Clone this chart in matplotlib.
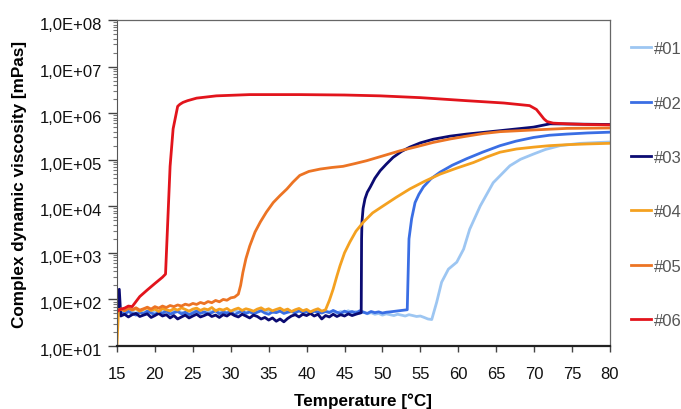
import matplotlib.pyplot as plt
import matplotlib.transforms as mtransforms
import numpy as np
from matplotlib.ticker import FixedLocator, FuncFormatter, LogLocator, NullFormatter

plt.rcParams['font.family'] = ['Liberation Sans', 'DejaVu Sans']

# baseline temperature grid (0.5 °C steps) for the low-viscosity plateaus
t_base = np.arange(15.5, 57.0, 0.5)

# #01 - light blue
base_01 = [56, 52, 58, 54, 50, 57, 53, 55, 59, 51, 56, 54, 58, 52, 55, 57, 53, 50, 56, 54,
           58, 55, 52, 57, 54, 59, 53, 56, 51, 55, 58, 54, 57, 52, 56, 53, 55, 59, 54, 57,
           52, 56, 60, 54, 58, 55, 53, 57, 54, 56, 52, 55, 58, 53, 57, 54, 56, 51, 55, 53,
           57, 52, 55, 50, 54, 49, 52, 48, 50, 46, 49, 47, 45, 48, 46, 44, 47, 45, 43, 44,
           41, 38, 37]
temp_01 = [15.0] + list(t_base) + [57.15, 57.8, 58.7, 59.8, 60.7, 61.5, 62.9, 64.6, 66.8,
                                   68.2, 69.9, 71.5, 73.4, 76.0, 78.7, 80.0]
visc_01 = [55] + base_01 + [87, 234, 447, 631, 1.2e3, 3.2e3, 1.02e4, 3.2e4, 7.4e4,
                            1.02e5, 1.32e5, 1.66e5, 2.0e5, 2.24e5, 2.35e5, 2.4e5]

# #02 - medium blue
base_02 = [52, 48, 55, 50, 46, 53, 49, 56, 51, 47, 54, 50, 57, 48, 52, 55, 49, 53, 47, 51,
           56, 50, 54, 48, 52, 57, 49, 53, 51, 55, 47, 52, 56, 50, 54, 49, 53, 57, 51, 48,
           54, 52, 56, 50, 53, 55, 51, 57, 52, 54, 50, 56, 53, 51, 55, 52, 58, 53, 50, 56,
           52, 55, 51, 57, 53, 50, 55, 52, 54, 51, 53, 54]
temp_02 = [15.0] + list(t_base[:72]) + [53.27, 53.5, 53.85, 54.3, 54.8, 55.4, 56.4, 57.6,
                                        59.2, 61.1, 63.2, 65.5, 67.6, 69.9, 72.0, 74.3,
                                        77.0, 80.0]
visc_02 = [50] + base_02 + [60, 2.0e3, 5.4e3, 1.2e4, 1.8e4, 2.6e4, 3.9e4, 5.4e4,
                            7.6e4, 1.05e5, 1.45e5, 2.0e5, 2.5e5, 3.0e5, 3.35e5, 3.55e5,
                            3.75e5, 3.9e5]

# #03 - dark blue
base_03 = [44, 48, 42, 47, 50, 43, 46, 49, 41, 45, 50, 44, 47, 40, 45, 38, 42, 46, 40, 44,
           48, 42, 45, 49, 43, 46, 41, 47, 44, 50, 45, 42, 48, 44, 40, 46, 43, 38, 41, 36,
           40, 34, 38, 33, 39, 44, 47, 42, 48, 45, 50, 44, 48, 38, 45, 42, 48, 43, 47, 44,
           49, 45, 48]
temp_03 = [15.0, 15.3] + list(t_base[:63]) + [47.2, 47.25, 47.3, 47.45, 47.7, 48.0, 48.4,
                                              49.0, 49.7, 50.5, 51.4, 52.5, 53.6, 55.0,
                                              56.7, 58.9, 61.1, 65.5, 69.9, 72.1, 76.0,
                                              80.0]
visc_03 = [45, 165] + base_03 + [52, 2.0e3, 4.6e3, 9.0e3, 1.45e4, 2.0e4, 2.6e4,
                                 4.0e4, 5.8e4, 8.0e4, 1.12e5, 1.5e5, 1.86e5, 2.3e5,
                                 2.75e5, 3.2e5, 3.55e5, 4.2e5, 5.0e5, 5.9e5, 5.8e5, 5.7e5]

# #04 - yellow orange
base_04 = [62, 57, 65, 59, 63, 56, 61, 66, 58, 62, 55, 64, 60, 57, 63, 59, 66, 61, 56, 62,
           65, 58, 63, 60, 67, 57, 62, 59, 64, 56, 61, 65, 58, 63, 60, 56, 62, 66, 59, 63,
           57, 61, 65, 58, 62, 55, 60, 64, 57, 61, 54, 59, 63, 56, 60]
temp_04 = [15.0, 15.2] + list(t_base[:55]) + [43.0, 43.5, 44.0, 44.4, 45.0, 45.7, 46.5,
                                              47.5, 48.7, 50.1, 51.8, 53.6, 55.5, 57.6,
                                              59.8, 62.0, 63.8, 65.5, 67.7, 69.9, 72.0,
                                              74.3, 77.0, 80.0]
visc_04 = [11, 60] + base_04 + [95, 166, 320, 525, 1.0e3, 1.7e3, 2.9e3,
                                4.6e3, 7.2e3, 1.02e4, 1.55e4, 2.35e4, 3.4e4, 4.9e4,
                                6.6e4, 8.7e4, 1.15e5, 1.45e5, 1.7e5, 1.86e5, 2.0e5,
                                2.1e5, 2.18e5, 2.25e5]

# #05 - orange
temp_05 = [15.0, 15.5, 16.0, 16.5, 17.0, 17.5, 18.0, 18.5, 19.0, 19.5, 20.0, 20.5, 21.0,
           21.5, 22.0, 22.5, 23.0, 23.5, 24.0, 24.5, 25.0, 25.5, 26.0, 26.5, 27.0, 27.5,
           28.0, 28.5, 29.0, 29.5, 30.0, 30.5, 31.0,
           31.3, 31.6, 32.0, 32.5, 33.2, 33.9, 34.7, 35.6, 36.5, 37.4, 38.2, 39.1, 40.3,
           41.8, 43.3, 44.8, 46.3, 47.9, 50.0, 52.3, 54.5, 56.7, 59.0, 61.1, 63.3, 65.5,
           69.9, 74.3, 80.0]
visc_05 = [55, 62, 58, 64, 60, 66, 59, 63, 68, 62, 70, 65, 72, 67, 74, 70, 76, 72, 79, 75,
           82, 78, 86, 81, 90, 85, 95, 89, 100, 96, 108, 112, 130,
           200, 380, 750, 1.4e3, 2.8e3, 4.6e3, 7.5e3, 1.2e4, 1.7e4, 2.35e4, 3.3e4, 4.6e4,
           5.6e4, 6.3e4, 6.8e4, 7.2e4, 8.2e4, 9.5e4, 1.2e5, 1.55e5, 1.9e5, 2.35e5, 2.8e5,
           3.2e5, 3.65e5, 4.0e5, 4.35e5, 4.7e5, 4.8e5]

# #06 - red
temp_06 = [15.0, 15.5, 16.0, 16.5, 17.0, 18.0, 19.0, 20.0, 21.0, 21.4, 22.0, 22.4, 23.0,
           23.3, 23.7, 24.3, 25.5, 28.1, 32.5, 39.0, 45.0, 49.7, 55.0, 61.1, 66.0, 69.4,
           70.3, 70.8, 71.3, 71.7, 72.5, 74.3, 77.0, 80.0]
visc_06 = [55, 62, 65, 72, 70, 115, 160, 220, 300, 350, 7.2e4, 4.6e5, 1.4e6,
           1.55e6, 1.7e6, 1.85e6, 2.1e6, 2.35e6, 2.5e6, 2.5e6, 2.45e6, 2.35e6, 2.15e6,
           1.85e6, 1.65e6, 1.45e6, 1.2e6, 9.5e5, 7.5e5, 6.6e5, 6.1e5, 5.9e5, 5.7e5, 5.6e5]

series = [
    ('#01', temp_01, visc_01, '#9DC6F2'),
    ('#02', temp_02, visc_02, '#3A6EE4'),
    ('#03', temp_03, visc_03, '#0B0B72'),
    ('#04', temp_04, visc_04, '#F4A120'),
    ('#05', temp_05, visc_05, '#EC7424'),
    ('#06', temp_06, visc_06, '#E2141C'),
]

fig = plt.figure(figsize=(6.81, 4.10), dpi=100)
ax = fig.add_axes([0.1718, 0.1537, 0.7239, 0.7951])

for name, t, v, c in series:
    ax.plot(t, v, color=c, lw=2.0, label=name, solid_joinstyle='round')

ax.set_yscale('log')
ax.set_xlim(15, 80)
ax.set_ylim(1e1, 1e8)
ax.xaxis.set_major_locator(FixedLocator(np.arange(15, 81, 5)))
ax.yaxis.set_major_locator(LogLocator(base=10, numticks=10))
ax.yaxis.set_minor_locator(LogLocator(base=10, subs=np.arange(2, 10), numticks=20))
ax.yaxis.set_minor_formatter(NullFormatter())
ax.yaxis.set_major_formatter(FuncFormatter(lambda v, p: '1,0E+%02d' % round(np.log10(v))))

ax.tick_params(axis='both', which='major', labelsize=12, direction='out',
               width=1, color='#444444', labelcolor='#111111')
ax.tick_params(axis='y', which='major', length=6.5, pad=4)
ax.tick_params(axis='x', which='major', length=4.5, pad=10)
ax.tick_params(axis='y', which='minor', direction='out', length=3, width=0.8, color='#777777')

# y labels sit a little below their ticks
shift = mtransforms.ScaledTranslation(0, -2.2 / 72, fig.dpi_scale_trans)
for lab in ax.get_yticklabels():
    lab.set_transform(lab.get_transform() + shift)

for s in ('top', 'right'):
    ax.spines[s].set_color('#666666')
    ax.spines[s].set_linewidth(0.9)
ax.spines['left'].set_color('#555555')
ax.spines['bottom'].set_color('#222222')
ax.spines['bottom'].set_linewidth(1.6)

ax.set_xlabel('Temperature [°C]', fontsize=12.3, fontweight='bold', labelpad=8)
ax.set_ylabel('Complex dynamic viscosity [mPas]', fontsize=12.3, fontweight='bold', labelpad=9)

leg = ax.legend(loc='upper left', bbox_to_anchor=(1.03, 0.955), frameon=False,
                handlelength=1.15, handletextpad=0.2, labelspacing=2.36, fontsize=12,
                borderaxespad=0)
for txt in leg.get_texts():
    txt.set_color('#555555')

fig.savefig('out.png', dpi=100)
